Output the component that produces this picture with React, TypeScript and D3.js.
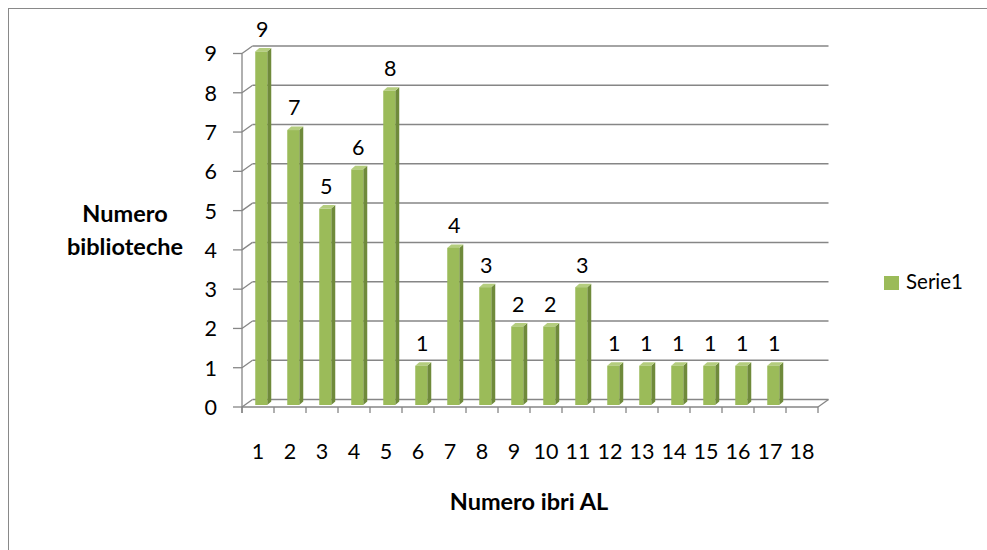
import React from "react";
import * as d3 from "d3";

const categories = ["1","2","3","4","5","6","7","8","9","10","11","12","13","14","15","16","17","18"];
const values: (number | null)[] = [9,7,5,6,8,1,4,3,2,2,3,1,1,1,1,1,1,null];
const yTicks = [0,1,2,3,4,5,6,7,8,9];
const seriesName = "Serie1";
const yTitle = ["Numero", "biblioteche"];
const xTitle = "Numero ibri AL";

const W = 987, H = 550;
const DX = 10.5, DY = -7.5; // wall depth offset
const BW = 12; // bar width
const BDX = 4, BDY = -3.5; // bar depth
const BOX = 3.25, BOY = -2; // bar front plane offset
const GRID = "#868686";
const FONT = "Lato, 'Open Sans', sans-serif";
const NUM = 21.5;

export default function App() {
  const x = d3.scaleBand<string>().domain(categories).range([242, 818]).padding(0);
  const y = d3.scaleLinear().domain([0, 9]).range([407, 53.5]);
  const x0 = 242, x1 = 818;
  const bx = x0 + DX, bx1 = x1 + DX;

  return (
    <svg width={W} height={H} style={{ position: "absolute", left: 0, top: 0, background: "#fff" }}>
      <rect x={8.5} y={8.5} width={1000} height={600} fill="#fff" stroke="#898989" strokeWidth={1} />
      {yTicks.map((t) => (
        <g key={t}>
          <line x1={233} y1={y(t)} x2={x0} y2={y(t)} stroke={GRID} strokeWidth={1.3} />
          <line x1={x0} y1={y(t)} x2={bx} y2={y(t) + DY} stroke={GRID} strokeWidth={1.3} />
          <line x1={bx} y1={y(t) + DY} x2={bx1} y2={y(t) + DY} stroke={GRID} strokeWidth={1.5} />
          <text x={217} y={y(t) + 2.5} textAnchor="end" dominantBaseline="middle" fontFamily={FONT} fontSize={NUM} fill="#000">{t}</text>
        </g>
      ))}
      <line x1={x0} y1={y(0)} x2={x1} y2={y(0)} stroke={GRID} strokeWidth={1.3} />
      <line x1={x1} y1={y(0)} x2={bx1} y2={y(0) + DY} stroke={GRID} strokeWidth={1.3} />
      <line x1={x0} y1={y(9)} x2={x0} y2={y(0) + 6} stroke={GRID} strokeWidth={1.3} />
      {d3.range(categories.length + 1).map((i) => {
        const xx = x0 + i * x.bandwidth();
        return <line key={i} x1={xx} y1={y(0)} x2={xx} y2={y(0) + 6} stroke={GRID} strokeWidth={1.3} />;
      })}
      {categories.map((c, i) => {
        const v = values[i];
        if (v == null) return null;
        const cx = (x(c) as number) + x.bandwidth() / 2 + BOX;
        const l = cx - BW / 2, r = cx + BW / 2;
        const base = y(0) + BOY, top = y(v) + BOY;
        return (
          <g key={c}>
            <polygon points={`${r},${top} ${r + BDX},${top + BDY} ${r + BDX},${base + BDY} ${r},${base}`} fill="#6F8A3B" />
            <polygon points={`${l},${top} ${r},${top} ${r + BDX},${top + BDY} ${l + BDX},${top + BDY}`} fill="#B4CD7E" />
            <rect x={l} y={top} width={BW} height={base - top} fill="#9BBB59" />
            <text x={cx + 1} y={top - 20} textAnchor="middle" dominantBaseline="middle" fontFamily={FONT} fontSize={NUM} fill="#000">{v}</text>
          </g>
        );
      })}
      {categories.map((c) => (
        <text key={c} x={(x(c) as number) + x.bandwidth() / 2} y={454} textAnchor="middle" dominantBaseline="middle" fontFamily={FONT} fontSize={NUM} fill="#000">{c}</text>
      ))}
      <text x={125} y={216} textAnchor="middle" dominantBaseline="middle" fontFamily={FONT} fontWeight="bold" fontSize={23.5} fill="#000">{yTitle[0]}</text>
      <text x={125} y={249} textAnchor="middle" dominantBaseline="middle" fontFamily={FONT} fontWeight="bold" fontSize={23.5} fill="#000">{yTitle[1]}</text>
      <text x={529} y={504} textAnchor="middle" dominantBaseline="middle" fontFamily={FONT} fontWeight="bold" fontSize={23.5} fill="#000">{xTitle}</text>
      <rect x={884} y={276} width={15} height={14} fill="#9BBB59" />
      <text x={906} y={284} dominantBaseline="middle" fontFamily={FONT} fontSize={20.5} fill="#000">{seriesName}</text>
    </svg>
  );
}
